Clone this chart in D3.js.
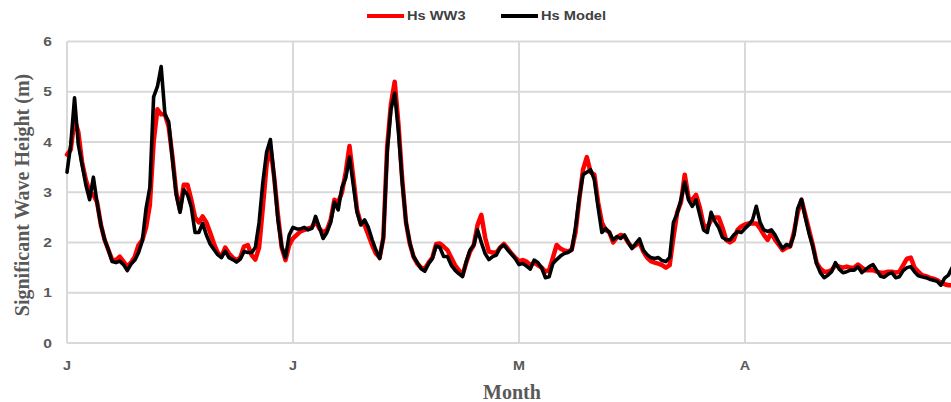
<!DOCTYPE html>
<html>
<head>
<meta charset="utf-8">
<script src="https://cdn.jsdelivr.net/npm/d3@7"></script>
<style>
  html, body { margin: 0; padding: 0; background: #ffffff; }
  svg { display: block; }
</style>
</head>
<body>
<div id="chart"></div>
<script>
// Significant wave height: WW3 hindcast vs. model, half-day samples
const stepDays = 0.5;
const monthLabels = ["J", "J", "M", "A"];
const monthStartDays = [0, 30, 60, 90];
const yTicks = [0, 1, 2, 3, 4, 5, 6];
const seriesNames = ["Hs WW3", "Hs Model"];

const hsWW3 = [
  3.75, 3.85, 4.45, 4.2, 3.6, 3.25, 3.0, 2.95, 2.8, 2.35,
  2.05, 1.85, 1.65, 1.65, 1.72, 1.62, 1.52, 1.6, 1.72, 1.95,
  2.05, 2.3, 2.75, 4.0, 4.65, 4.55, 4.55, 4.3, 3.7, 3.0,
  2.65, 3.15, 3.15, 2.85, 2.5, 2.4, 2.52, 2.4, 2.2, 1.98,
  1.8, 1.72, 1.9, 1.78, 1.7, 1.65, 1.7, 1.92, 1.95, 1.75,
  1.66, 1.9, 2.7, 3.55, 3.9, 3.3, 2.55, 1.9, 1.65, 1.95,
  2.08, 2.15, 2.22, 2.25, 2.28, 2.3, 2.42, 2.28, 2.2, 2.25,
  2.45, 2.85, 2.8, 3.0, 3.4, 3.92, 3.3, 2.65, 2.38, 2.35,
  2.15, 1.95, 1.78, 1.7, 2.1, 3.9, 4.75, 5.2, 4.35, 3.25,
  2.4, 1.98, 1.72, 1.58, 1.5, 1.48, 1.6, 1.7, 1.97, 1.98,
  1.92, 1.85, 1.7, 1.55, 1.45, 1.35, 1.6, 1.82, 1.95, 2.35,
  2.55, 2.1, 1.82, 1.8, 1.8, 1.9, 1.97, 1.88, 1.78, 1.7,
  1.63, 1.65, 1.62, 1.55, 1.6, 1.55, 1.5, 1.42, 1.45, 1.7,
  1.95, 1.88, 1.84, 1.82, 1.86, 2.2, 2.85, 3.45, 3.7, 3.4,
  3.35, 2.8, 2.4, 2.25, 2.2, 2.0, 2.1, 2.15, 2.12, 2.0,
  1.9, 1.95, 2.0, 1.82, 1.7, 1.63, 1.6, 1.58, 1.55, 1.5,
  1.55, 2.1, 2.6, 2.8, 3.35, 2.9, 2.85, 2.95, 2.7, 2.35,
  2.3, 2.45, 2.5, 2.5, 2.3, 2.05, 2.0, 2.05, 2.25, 2.32,
  2.36, 2.38, 2.38, 2.38, 2.28, 2.15, 2.05, 2.2, 2.05, 1.95,
  1.85, 1.9, 1.92, 2.2, 2.6, 2.85, 2.55, 2.25, 1.95, 1.6,
  1.48, 1.42, 1.42, 1.45, 1.55, 1.52, 1.5, 1.52, 1.5, 1.5,
  1.56, 1.5, 1.45, 1.45, 1.45, 1.42, 1.4, 1.4, 1.42, 1.42,
  1.4, 1.42, 1.55, 1.68, 1.7, 1.5, 1.42, 1.35, 1.33, 1.3,
  1.28, 1.25, 1.2, 1.17, 1.15, 1.15
];

const hsModel = [
  3.4, 3.95, 4.88, 3.95, 3.55, 3.15, 2.85, 3.3, 2.78, 2.35,
  2.05, 1.85, 1.62, 1.6, 1.63, 1.56, 1.44, 1.57, 1.65, 1.8,
  2.03, 2.68, 3.1, 4.9, 5.1, 5.5, 4.55, 4.4, 3.65, 2.95,
  2.6, 3.05, 2.95, 2.7, 2.2, 2.2, 2.38, 2.15, 1.97, 1.86,
  1.76, 1.7, 1.83, 1.7, 1.66, 1.61, 1.67, 1.82, 1.8, 1.8,
  1.9, 2.4, 3.2, 3.8, 4.05, 3.3, 2.45, 1.92, 1.7, 2.15,
  2.3, 2.27, 2.27, 2.3, 2.25, 2.28, 2.52, 2.3, 2.08, 2.2,
  2.4, 2.8, 2.65, 3.1, 3.28, 3.7, 3.15, 2.6, 2.35, 2.45,
  2.3, 2.06, 1.85, 1.68, 2.1, 3.8, 4.65, 4.97, 4.2, 3.2,
  2.4, 2.0, 1.72, 1.6, 1.48, 1.43, 1.58, 1.68, 1.93, 1.9,
  1.72, 1.72, 1.55, 1.45, 1.38, 1.32, 1.62, 1.85, 1.95, 2.25,
  2.0, 1.78, 1.66, 1.72, 1.75, 1.9, 1.95, 1.85, 1.77, 1.68,
  1.56, 1.58, 1.53, 1.47, 1.65, 1.6, 1.5, 1.3, 1.32, 1.58,
  1.66, 1.73, 1.78, 1.8, 1.85, 2.3, 2.9, 3.35, 3.4, 3.45,
  3.25, 2.7, 2.2, 2.28, 2.2, 2.05, 2.12, 2.08, 2.15, 2.0,
  1.88, 1.98, 2.07, 1.85, 1.76, 1.7, 1.68, 1.7, 1.64, 1.62,
  1.7, 2.4, 2.58, 2.85, 3.2, 2.85, 2.72, 2.85, 2.55, 2.25,
  2.2, 2.6, 2.42, 2.3, 2.1, 2.06, 2.05, 2.15, 2.22, 2.2,
  2.28, 2.35, 2.45, 2.72, 2.4, 2.25, 2.22, 2.25, 2.15, 2.0,
  1.88, 1.96, 1.93, 2.15, 2.68, 2.86, 2.5, 2.18, 1.92, 1.58,
  1.4, 1.3, 1.35, 1.42, 1.6, 1.47, 1.4, 1.42, 1.45, 1.45,
  1.52, 1.4, 1.46, 1.52, 1.56, 1.44, 1.33, 1.31, 1.37, 1.4,
  1.3, 1.32, 1.44, 1.5, 1.52, 1.42, 1.34, 1.32, 1.3, 1.27,
  1.25, 1.23, 1.15, 1.29, 1.35, 1.5
];

const W = 951, H = 402;
const plot = { left: 67, right: 971, top: 41.5, bottom: 343 };

const svg = d3.select("#chart").append("svg")
  .attr("width", W).attr("height", H)
  .attr("viewBox", `0 0 ${W} ${H}`);

const x = d3.scaleLinear().domain([0, 120]).range([plot.left, plot.right]);
const y = d3.scaleLinear().domain([0, 6]).range([plot.bottom, plot.top]);

const gridColor = "#d9d9d9";
const labelColor = "#595959";

// horizontal gridlines
svg.append("g").selectAll("line").data(yTicks).join("line")
  .attr("x1", plot.left).attr("x2", W)
  .attr("y1", d => y(d)).attr("y2", d => y(d))
  .attr("stroke", gridColor).attr("stroke-width", 2);

// vertical gridlines at month starts
svg.append("g").selectAll("line").data(monthStartDays).join("line")
  .attr("x1", d => x(d)).attr("x2", d => x(d))
  .attr("y1", plot.top).attr("y2", plot.bottom)
  .attr("stroke", gridColor).attr("stroke-width", 2);

// y tick labels (slightly widened bold sans)
svg.append("g").selectAll("text").data(yTicks).join("text")
  .attr("transform", d => `translate(52,${y(d) + 4.6}) scale(1.2,1)`)
  .attr("text-anchor", "end")
  .attr("font-family", "Arial, 'Liberation Sans', sans-serif")
  .attr("font-weight", "bold").attr("font-size", 13)
  .attr("fill", labelColor)
  .text(d => d);

// x tick labels
svg.append("g").selectAll("text").data(monthLabels).join("text")
  .attr("transform", (d, i) => `translate(${x(monthStartDays[i])},370) scale(1.2,1)`)
  .attr("text-anchor", "middle")
  .attr("font-family", "Arial, 'Liberation Sans', sans-serif")
  .attr("font-weight", "bold").attr("font-size", 12)
  .attr("fill", labelColor)
  .text(d => d);

// axis titles
svg.append("text")
  .attr("x", 512).attr("y", 399)
  .attr("text-anchor", "middle")
  .attr("font-family", "'Times New Roman', 'Liberation Serif', serif")
  .attr("font-weight", "bold").attr("font-size", 20)
  .attr("fill", labelColor)
  .text("Month");

svg.append("text")
  .attr("transform", "translate(29,195) rotate(-90)")
  .attr("text-anchor", "middle")
  .attr("font-family", "'Times New Roman', 'Liberation Serif', serif")
  .attr("font-weight", "bold").attr("font-size", 20)
  .attr("fill", labelColor)
  .text("Significant Wave Height (m)");

// series lines
const line = d3.line()
  .x((d, i) => x(i * stepDays))
  .y(d => y(d))
  .curve(d3.curveLinear);

const series = [
  { name: seriesNames[0], values: hsWW3, color: "#ff0000", width: 4.5 },
  { name: seriesNames[1], values: hsModel, color: "#000000", width: 3.6 }
];

svg.append("g").selectAll("path").data(series).join("path")
  .attr("d", d => line(d.values))
  .attr("fill", "none")
  .attr("stroke", d => d.color)
  .attr("stroke-width", d => d.width)
  .attr("stroke-linejoin", "round")
  .attr("stroke-linecap", "round");

// legend
const legendX = [367, 501];
const legend = svg.append("g").selectAll("g").data(series).join("g")
  .attr("transform", (d, i) => `translate(${legendX[i]},16)`);
legend.append("line")
  .attr("x1", 0).attr("x2", 37).attr("y1", 0).attr("y2", 0)
  .attr("stroke", d => d.color).attr("stroke-width", 4);
legend.append("text")
  .attr("transform", "translate(40,4.3) scale(1.22,1)")
  .attr("font-family", "Arial, 'Liberation Sans', sans-serif")
  .attr("font-weight", "bold").attr("font-size", 12)
  .attr("fill", "#404040")
  .text(d => d.name);
</script>
</body>
</html>
